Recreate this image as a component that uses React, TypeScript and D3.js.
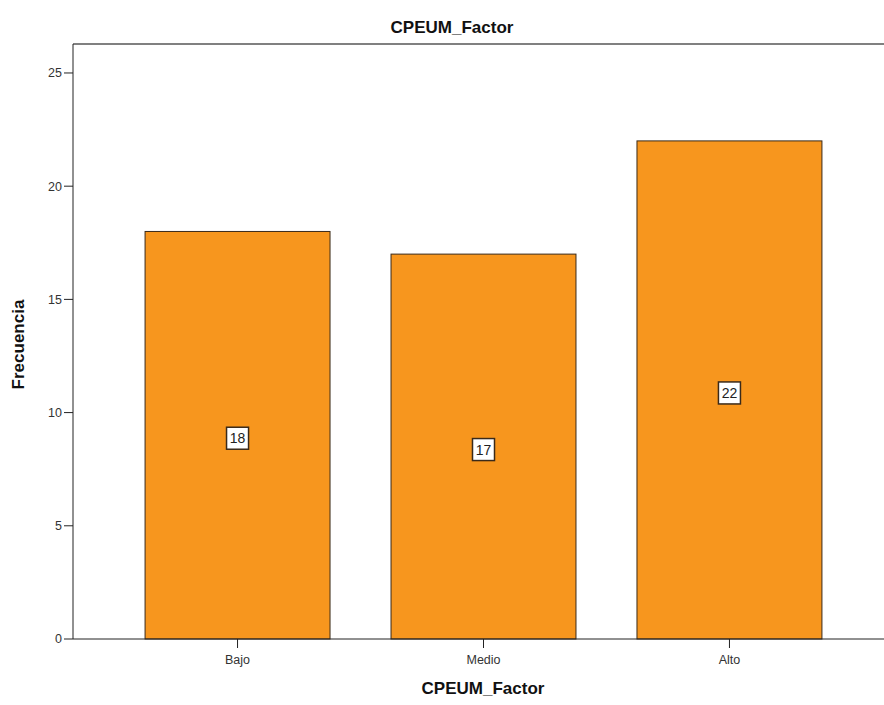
import React, { useEffect, useRef } from "react";
import * as d3 from "d3";

const categories = ["Bajo", "Medio", "Alto"];
const values = [18, 17, 22];
const yTicks = [0, 5, 10, 15, 20, 25];
const chartTitle = "CPEUM_Factor";
const xTitle = "CPEUM_Factor";
const yTitle = "Frecuencia";

export default function App() {
  const ref = useRef<SVGSVGElement>(null);
  useEffect(() => {
    document.body.style.margin = "0";
    const W = 884, H = 705;
    const left = 73, top = 44, bottom = 639;
    const svg = d3.select(ref.current);
    svg.selectAll("*").remove();
    svg.attr("width", W).attr("height", H).style("background", "#fff");

    const x = d3.scaleBand<string>().domain(categories).range([left, 894]).paddingInner(0.248).paddingOuter(0.293);
    const y = d3.scaleLinear().domain([0, 26.28]).range([bottom, top]);
    const font = "'Liberation Sans', Arial, sans-serif";

    // frame
    svg.append("line").attr("x1", left).attr("x2", W).attr("y1", top).attr("y2", top).attr("stroke", "#808080").attr("stroke-width", 2);
    svg.append("line").attr("x1", left).attr("x2", left).attr("y1", top).attr("y2", bottom).attr("stroke", "#222").attr("stroke-width", 1);

    // bars
    svg.selectAll("rect.bar").data(values).enter().append("rect")
      .attr("x", (_, i) => x(categories[i])!)
      .attr("y", d => y(d))
      .attr("width", x.bandwidth())
      .attr("height", d => bottom - y(d))
      .attr("fill", "#f7961e").attr("stroke", "#3a2a1a").attr("stroke-width", 1);

    // x axis line
    svg.append("line").attr("x1", left).attr("x2", W).attr("y1", bottom).attr("y2", bottom).attr("stroke", "#222").attr("stroke-width", 1);

    // y ticks
    const yt = svg.append("g");
    yTicks.forEach(t => {
      yt.append("line").attr("x1", left - 9).attr("x2", left).attr("y1", y(t)).attr("y2", y(t)).attr("stroke", "#222");
      yt.append("text").attr("x", left - 11).attr("y", y(t)).attr("dy", "0.35em").attr("text-anchor", "end")
        .attr("font-family", font).attr("font-size", 12.5).attr("fill", "#333").text(t);
    });

    // x ticks
    categories.forEach(c => {
      const cx = x(c)! + x.bandwidth() / 2;
      svg.append("line").attr("x1", cx).attr("x2", cx).attr("y1", bottom).attr("y2", bottom + 9).attr("stroke", "#222");
      svg.append("text").attr("x", cx).attr("y", bottom + 25).attr("text-anchor", "middle")
        .attr("font-family", font).attr("font-size", 12.5).attr("fill", "#333").text(c);
    });

    // value labels
    values.forEach((v, i) => {
      const cx = x(categories[i])! + x.bandwidth() / 2;
      const cy = y(v / 2) + 3;
      svg.append("rect").attr("x", cx - 11).attr("y", cy - 11).attr("width", 22).attr("height", 22)
        .attr("fill", "#fff").attr("stroke", "#3a2a1a").attr("stroke-width", 1.5);
      svg.append("text").attr("x", cx).attr("y", cy).attr("dy", "0.36em").attr("text-anchor", "middle")
        .attr("font-family", font).attr("font-size", 14).attr("fill", "#222").text(v);
    });

    // titles
    svg.append("text").attr("x", 452).attr("y", 33).attr("text-anchor", "middle")
      .attr("font-family", font).attr("font-size", 17).attr("font-weight", "bold").attr("fill", "#111").text(chartTitle);
    svg.append("text").attr("x", 483).attr("y", 694).attr("text-anchor", "middle")
      .attr("font-family", font).attr("font-size", 17).attr("font-weight", "bold").attr("fill", "#111").text(xTitle);
    svg.append("text").attr("transform", `translate(24, ${(top + bottom) / 2 + 3}) rotate(-90)`).attr("text-anchor", "middle")
      .attr("font-family", font).attr("font-size", 17).attr("font-weight", "bold").attr("fill", "#111").text(yTitle);
  }, []);
  return <svg ref={ref} style={{ display: "block" }} />;
}
